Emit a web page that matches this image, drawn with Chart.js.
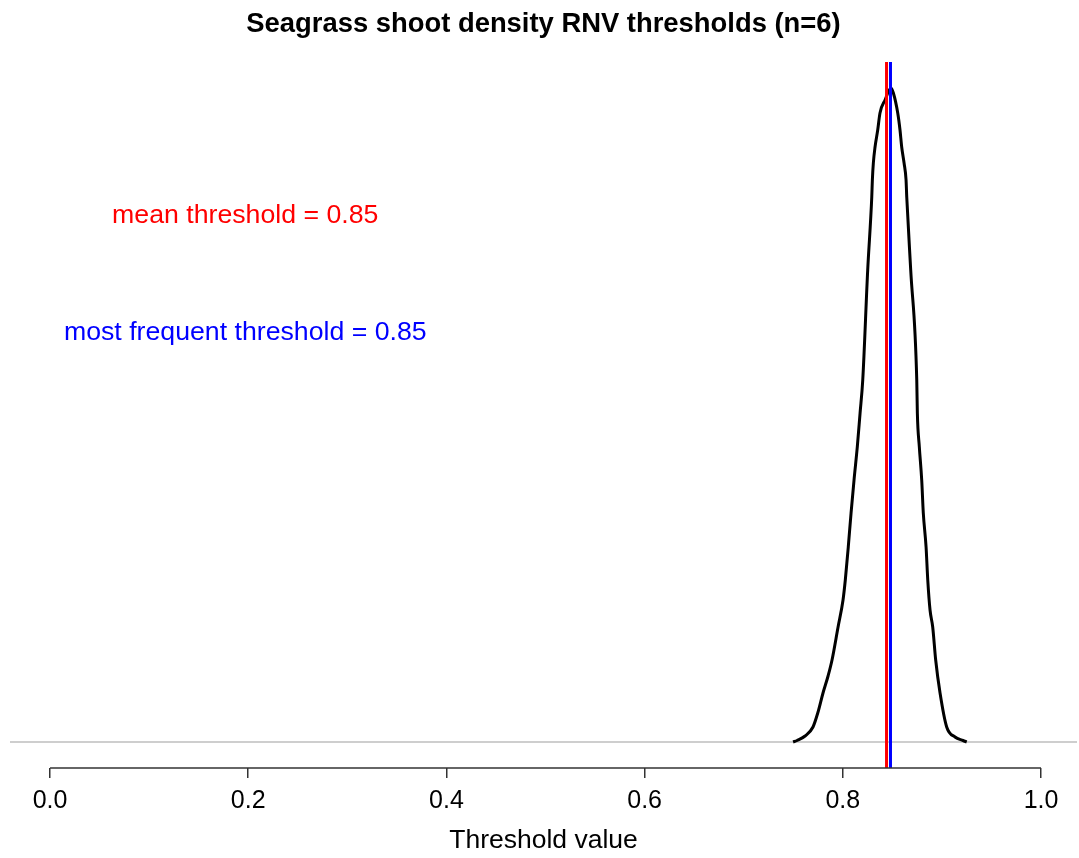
<!DOCTYPE html>
<html>
<head>
<meta charset="utf-8">
<script src="https://cdn.jsdelivr.net/npm/chart.js@4.4.1/dist/chart.umd.min.js"></script>
<style>
    body { margin: 0; background: #fff; }
    #wrap { width: 1079px; height: 858px; }
</style>
</head>
<body>
<div id="wrap"><canvas id="rnvChart" width="1079" height="858"></canvas></div>
<script>
// density of the thresholds
const densityX = [0.7498, 0.7538, 0.7619, 0.7699, 0.7750, 0.7800, 0.7851, 0.7891, 0.7952, 0.8002,
    0.8025, 0.8055, 0.8083, 0.8113, 0.8146, 0.8174, 0.8201, 0.8251, 0.8292, 0.8298,
    0.8308, 0.8325, 0.8352, 0.8375, 0.8426, 0.8486,
    0.8510, 0.8554, 0.8577, 0.8594, 0.8618, 0.8638, 0.8645, 0.8685, 0.8746, 0.8752,
    0.8772, 0.8796, 0.8812, 0.8840, 0.8857, 0.8880, 0.8907, 0.8937, 0.8981, 0.9048,
    0.9132, 0.9213, 0.9250];
const densityY = [0, 0.050, 0.202, 0.505, 1.009, 1.648, 2.220, 2.758, 3.869, 4.777,
    5.450, 6.560, 7.703, 8.813, 9.924, 11.067, 12.177, 15.878, 18.333, 18.905,
    19.477, 20.015, 20.587, 21.159, 21.596, 22.000,
    21.832, 21.159, 20.587, 20.015, 19.477, 18.905, 18.333, 15.878, 12.177, 11.067,
    9.924, 8.813, 7.703, 6.560, 5.450, 4.440, 3.869, 2.758, 1.648, 0.505,
    0.168, 0.050, 0];

const meanThreshold = 0.8441;
const modeThreshold = 0.8481;
const meanLabel = "mean threshold = 0.85";
const modeLabel = "most frequent threshold = 0.85";
const labelX = 0.197;
const meanLabelY = 17.46;
const modeLabelY = 13.52;

const xTicks = [0, 0.2, 0.4, 0.6, 0.8, 1.0];
const xMin = -0.0404, xMax = 1.0363;
const yMin = -0.875, yMax = 22.875;

const chartTitle = "Seagrass shoot density RNV thresholds (n=6)";
const xTitle = "Threshold value";

function toPoints(xs, ys){
    let pts = [];
    for(let i = 0; i < xs.length; i++){
        pts.push({x: xs[i], y: ys[i]});
    }
    return pts;
}

// axis line only from 0 to 1, plus title and the two text labels
const extras = {
    id: "extras",
    afterDraw(chart){
        const ctx = chart.ctx;
        const xs = chart.scales.x, ys = chart.scales.y;
        const area = chart.chartArea;
        ctx.save();
        ctx.strokeStyle = "#333";
        ctx.lineWidth = 1.5;
        ctx.beginPath();
        ctx.moveTo(xs.getPixelForValue(xTicks[0]), area.bottom);
        ctx.lineTo(xs.getPixelForValue(xTicks[xTicks.length - 1]), area.bottom);
        ctx.stroke();

        ctx.textAlign = "center";
        ctx.textBaseline = "alphabetic";
        ctx.fillStyle = "#000";
        ctx.font = "bold 27.4px 'Liberation Sans', Arial, sans-serif";
        ctx.fillText(chartTitle, (area.left + area.right) / 2, 32);

        ctx.font = "26.7px 'Liberation Sans', Arial, sans-serif";
        ctx.fillStyle = "#ff0000";
        ctx.fillText(meanLabel, xs.getPixelForValue(labelX), ys.getPixelForValue(meanLabelY));
        ctx.fillStyle = "#0000ff";
        ctx.fillText(modeLabel, xs.getPixelForValue(labelX), ys.getPixelForValue(modeLabelY));
        ctx.restore();
    }
};

new Chart(document.getElementById("rnvChart"), {
    type: "line",
    data: {
        datasets: [
            {
                data: [{x: modeThreshold, y: yMin}, {x: modeThreshold, y: yMax}],
                borderColor: "#0000ff", borderWidth: 3, pointRadius: 0
            },
            {
                data: [{x: meanThreshold, y: yMin}, {x: meanThreshold, y: yMax}],
                borderColor: "#ff0000", borderWidth: 3, pointRadius: 0
            },
            {
                data: toPoints(densityX, densityY),
                borderColor: "#000", borderWidth: 3, pointRadius: 0,
                cubicInterpolationMode: "monotone"
            },
            {
                data: [{x: xMin, y: 0}, {x: xMax, y: 0}],
                borderColor: "#bebebe", borderWidth: 1.5, pointRadius: 0
            }
        ]
    },
    options: {
        responsive: false,
        animation: false,
        layout: { padding: { left: 10, right: 2, top: 62, bottom: 0 } },
        plugins: {
            legend: { display: false },
            tooltip: { enabled: false }
        },
        scales: {
            x: {
                type: "linear",
                min: xMin,
                max: xMax,
                afterBuildTicks: function(scale){
                    scale.ticks = xTicks.map(v => ({value: v}));
                },
                afterFit: function(scale){ scale.height = 90; },
                border: { display: false },
                grid: {
                    drawOnChartArea: false,
                    drawTicks: true,
                    tickLength: 10,
                    color: "#333",
                    lineWidth: 1.5
                },
                ticks: {
                    color: "#000",
                    padding: 8,
                    maxRotation: 0,
                    font: { family: "'Liberation Sans', Arial, sans-serif", size: 25 },
                    callback: v => v.toFixed(1)
                },
                title: {
                    display: true,
                    text: xTitle,
                    color: "#000",
                    font: { family: "'Liberation Sans', Arial, sans-serif", size: 26.5 },
                    padding: { top: 0, bottom: 1 }
                }
            },
            y: {
                display: false,
                min: yMin,
                max: yMax
            }
        }
    },
    plugins: [extras]
});
</script>
</body>
</html>
